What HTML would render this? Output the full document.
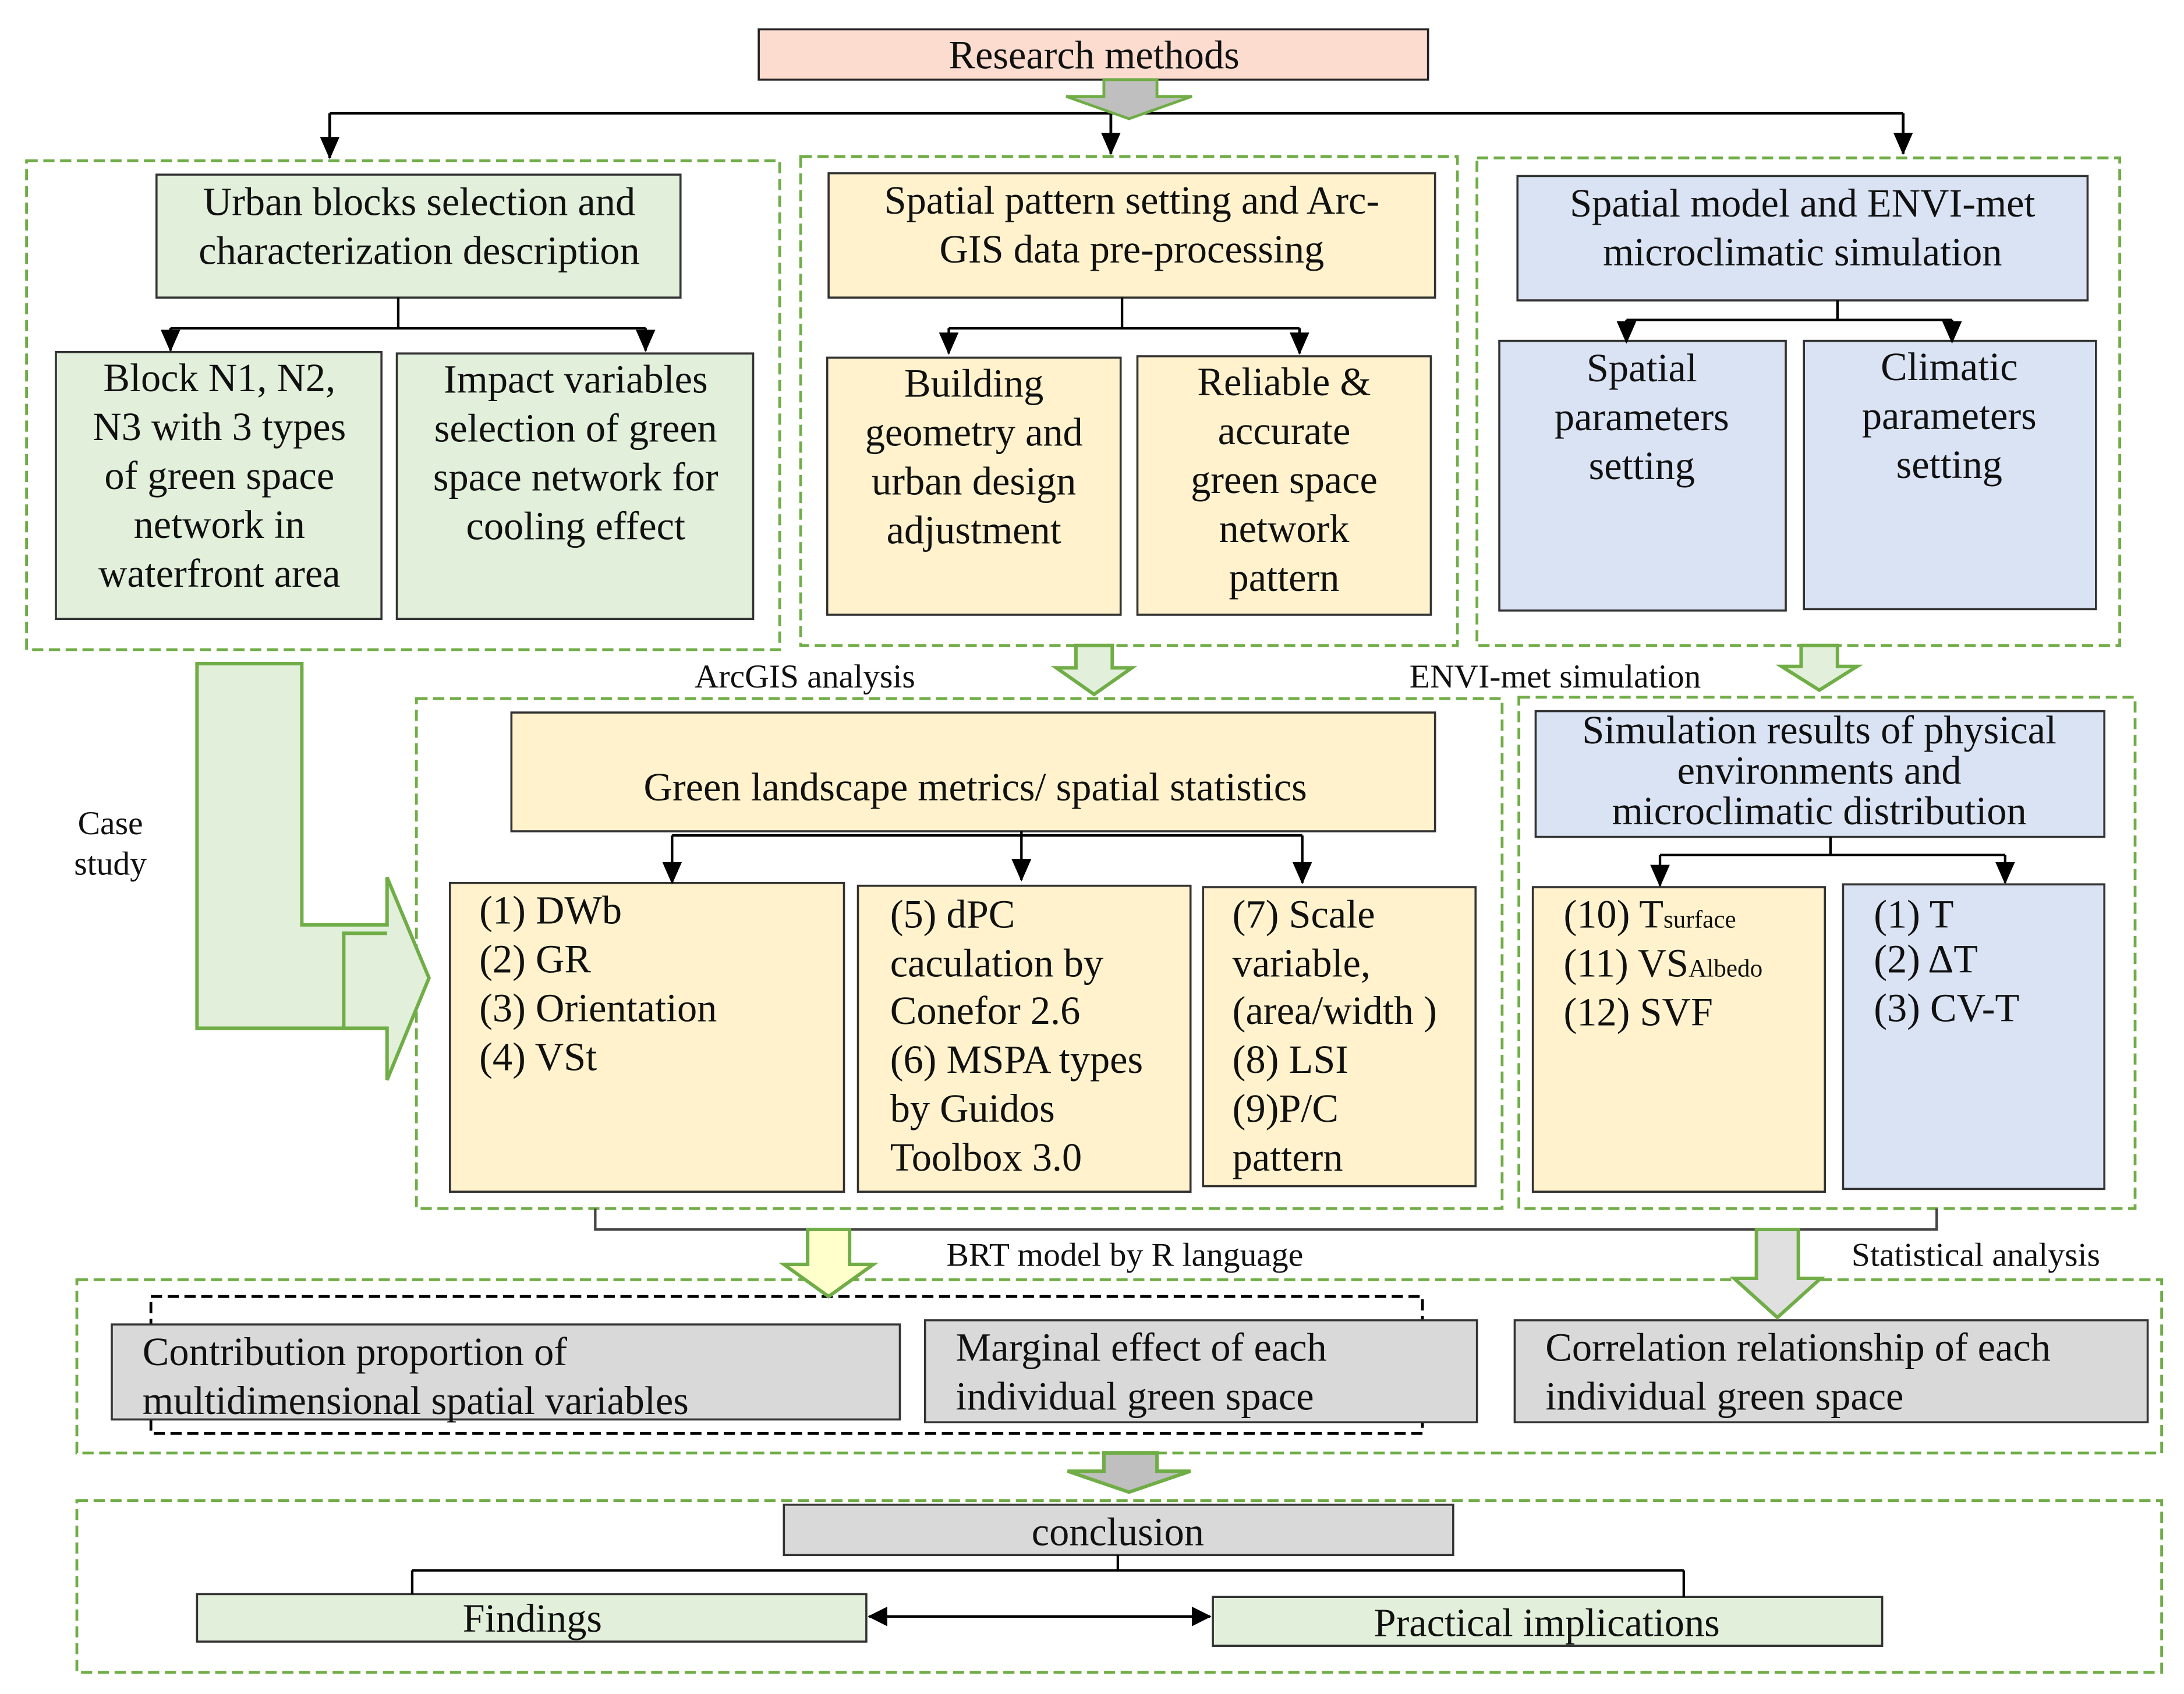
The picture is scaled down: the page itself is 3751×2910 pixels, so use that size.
<!DOCTYPE html>
<html><head><meta charset="utf-8"><style>html,body{margin:0;padding:0;background:#fff}svg{display:block}</style></head><body>
<svg xmlns="http://www.w3.org/2000/svg" width="3751" height="2910" viewBox="0 0 1563 1212.5" preserveAspectRatio="none" font-family="Liberation Serif, serif" font-size="28.5" fill="#111">
<defs><marker id="a" markerWidth="16" markerHeight="14" refX="15" refY="7" orient="auto" markerUnits="userSpaceOnUse" viewBox="0 0 16 14"><path d="M0,0 L16,7 L0,14 z" fill="#000"/></marker>
<marker id="ar" viewBox="0 0 14 14" markerWidth="16" markerHeight="14" refX="13" refY="7" orient="auto" markerUnits="userSpaceOnUse"><path d="M0,0 L14,7 L0,14 z" fill="#000"/></marker>
<marker id="al" viewBox="0 0 14 14" markerWidth="16" markerHeight="14" refX="1" refY="7" orient="auto" markerUnits="userSpaceOnUse"><path d="M14,0 L0,7 L14,14 z" fill="#000"/></marker></defs>
<g stroke="#222" stroke-width="1.5">
<rect x="543" y="21" width="479" height="36" fill="#fbdccf"/>
</g>
<text x="783" y="49" text-anchor="middle">Research methods</text>
<g fill="none" stroke="#000" stroke-width="2">
<path d="M236,81 H1362"/>
<path d="M236,81 V113" marker-end="url(#a)"/><path d="M795,81 V110" marker-end="url(#a)"/><path d="M1362,81 V110" marker-end="url(#a)"/>
</g>
<polygon points="790,57 828,57 828,69 853,69 808,85 763,69 790,69" fill="#bfbfbf" stroke="#70ad47" stroke-width="2"/>
<g fill="none" stroke="#70ad47" stroke-width="2" stroke-dasharray="8,4">
<rect x="19" y="115" width="539" height="350"/><rect x="573" y="112" width="470" height="350"/><rect x="1057" y="113" width="460" height="349"/>
<rect x="298" y="500" width="777" height="365"/><rect x="1087" y="499" width="441" height="366"/>
<rect x="55" y="916" width="1492" height="124"/><rect x="55" y="1074" width="1492" height="123"/>
</g>
<rect x="108" y="928" width="910" height="98" fill="none" stroke="#000" stroke-width="2" stroke-dasharray="8,4"/>
<g stroke="#333" stroke-width="1.5">
<rect x="112" y="125" width="375" height="88" fill="#e2efda"/>
<rect x="40" y="252" width="233" height="191" fill="#e2efda"/>
<rect x="284" y="253" width="255" height="190" fill="#e2efda"/>
<rect x="593" y="124" width="434" height="89" fill="#fff2cc"/>
<rect x="592" y="256" width="210" height="184" fill="#fff2cc"/>
<rect x="814" y="255" width="210" height="185" fill="#fff2cc"/>
<rect x="1086" y="126" width="408" height="89" fill="#dae3f3"/>
<rect x="1073" y="244" width="205" height="193" fill="#dae3f3"/>
<rect x="1291" y="244" width="209" height="192" fill="#dae3f3"/>
<rect x="366" y="510" width="661" height="85" fill="#fff2cc"/>
<rect x="322" y="632" width="282" height="221" fill="#fff2cc"/>
<rect x="614" y="634" width="238" height="219" fill="#fff2cc"/>
<rect x="861" y="635" width="195" height="214" fill="#fff2cc"/>
<rect x="1099" y="509" width="407" height="90" fill="#dae3f3"/>
<rect x="1097" y="635" width="209" height="218" fill="#fff2cc"/>
<rect x="1319" y="633" width="187" height="218" fill="#dae3f3"/>
<rect x="80" y="948" width="564" height="68" fill="#d9d9d9"/>
<rect x="662" y="945" width="395" height="73" fill="#d9d9d9"/>
<rect x="1084" y="945" width="453" height="73" fill="#d9d9d9"/>
<rect x="561" y="1077" width="479" height="36" fill="#d9d9d9"/>
<rect x="141" y="1141" width="479" height="34" fill="#e2efda"/>
<rect x="868" y="1143" width="479" height="35" fill="#e2efda"/>
</g>
<g fill="none" stroke="#000" stroke-width="1.8">
<path d="M285,213 V235 M122,235 H462"/><path d="M122,235 V251" marker-end="url(#a)"/><path d="M462,235 V251" marker-end="url(#a)"/>
<path d="M803,213 V235 M679,235 H930"/><path d="M679,235 V253" marker-end="url(#a)"/><path d="M930,235 V253" marker-end="url(#a)"/>
<path d="M1315,215 V229 M1164,229 H1397"/><path d="M1164,229 V245" marker-end="url(#a)"/><path d="M1397,229 V245" marker-end="url(#a)"/>
<path d="M731,595 V598 M481,598 H932"/><path d="M481,598 V632" marker-end="url(#a)"/><path d="M731,598 V630" marker-end="url(#a)"/><path d="M932,598 V632" marker-end="url(#a)"/>
<path d="M1310,599 V612 M1188,612 H1435"/><path d="M1188,612 V634" marker-end="url(#a)"/><path d="M1435,612 V632" marker-end="url(#a)"/>
<path d="M426,865 V880 H1386 V865" stroke="#444"/>
<path d="M800,1113 V1124 M295,1124 H1205 M295,1124 V1141 M1205,1124 V1143"/>
<path d="M622,1157 H866" marker-start="url(#al)" marker-end="url(#ar)"/>
</g>
<g stroke="#70ad47" stroke-width="2.5">
<polygon points="770,462 796,462 796,478 810,478 783,497 756,478 770,478" fill="#e2efda"/>
<polygon points="1289,462 1315,462 1315,477 1329,477 1302,494 1275,477 1289,477" fill="#e2efda"/>
<polygon points="141,475 216,475 216,662 277,662 277,628 307,700 277,773 277,736 141,736" fill="#e2efda"/>
<path d="M246,736 V668 H277" fill="none"/>
<polygon points="578,880 608,880 608,905 625,905 593,928 561,905 578,905" fill="#ffffcc"/>
<polygon points="1257,880 1287,880 1287,915 1303,915 1272,943 1241,915 1257,915" fill="#e0e0e0"/>
<polygon points="790,1040 828,1040 828,1053 852,1053 808,1068 764,1053 790,1053" fill="#bfbfbf"/>
</g>
<g text-anchor="middle">
<text x="300" y="154">Urban blocks selection and</text><text x="300" y="189">characterization description</text>
<text x="157" y="280">Block N1, N2,</text><text x="157" y="315">N3 with 3 types</text><text x="157" y="350">of green space</text><text x="157" y="385">network in</text><text x="157" y="420">waterfront area</text>
<text x="412" y="281">Impact variables</text><text x="412" y="316">selection of green</text><text x="412" y="351">space network for</text><text x="412" y="386">cooling effect</text>
<text x="810" y="153">Spatial pattern setting and Arc-</text><text x="810" y="188">GIS data pre-processing</text>
<text x="697" y="284">Building</text><text x="697" y="319">geometry and</text><text x="697" y="354">urban design</text><text x="697" y="389">adjustment</text>
<text x="919" y="283">Reliable &amp;</text><text x="919" y="318">accurate</text><text x="919" y="353">green space</text><text x="919" y="388">network</text><text x="919" y="423">pattern</text>
<text x="1290" y="155">Spatial model and ENVI-met</text><text x="1290" y="190">microclimatic simulation</text>
<text x="1175" y="273">Spatial</text><text x="1175" y="308">parameters</text><text x="1175" y="343">setting</text>
<text x="1395" y="272">Climatic</text><text x="1395" y="307">parameters</text><text x="1395" y="342">setting</text>
<text x="698" y="573">Green landscape metrics/ spatial statistics</text>
<text x="1302" y="532">Simulation results of physical</text><text x="1302" y="561">environments and</text><text x="1302" y="590">microclimatic distribution</text>
<text x="800" y="1106">conclusion</text>
<text x="381" y="1168">Findings</text>
<text x="1107" y="1171">Practical implications</text>
</g>
<g font-size="24" text-anchor="middle">
<text x="576" y="492">ArcGIS analysis</text><text x="1113" y="492">ENVI-met simulation</text>
<text x="79" y="597">Case</text><text x="79" y="626">study</text>
<text x="805" y="906">BRT model by R language</text><text x="1414" y="906">Statistical analysis</text>
</g>
<g>
<text x="343" y="661">(1) DWb</text><text x="343" y="696">(2) GR</text><text x="343" y="731">(3) Orientation</text><text x="343" y="766">(4) VSt</text>
<text x="637" y="664">(5) dPC</text><text x="637" y="699">caculation by</text><text x="637" y="733">Conefor 2.6</text><text x="637" y="768">(6) MSPA types</text><text x="637" y="803">by Guidos</text><text x="637" y="838">Toolbox 3.0</text>
<text x="882" y="664">(7) Scale</text><text x="882" y="699">variable,</text><text x="882" y="733">(area/width )</text><text x="882" y="768">(8) LSI</text><text x="882" y="803">(9)P/C</text><text x="882" y="838">pattern</text>
<text x="1119" y="664">(10) T<tspan font-size="18">surface</tspan></text><text x="1119" y="699">(11) VS<tspan font-size="18">Albedo</tspan></text><text x="1119" y="734">(12) SVF</text>
<text x="1341" y="664">(1) T</text><text x="1341" y="696">(2) ΔT</text><text x="1341" y="731">(3) CV-T</text>
<text x="102" y="977">Contribution proportion of</text><text x="102" y="1012">multidimensional spatial variables</text>
<text x="684" y="974">Marginal effect of each</text><text x="684" y="1009">individual green space</text>
<text x="1106" y="974">Correlation relationship of each</text><text x="1106" y="1009">individual green space</text>
</g>
</svg>
</body></html>
